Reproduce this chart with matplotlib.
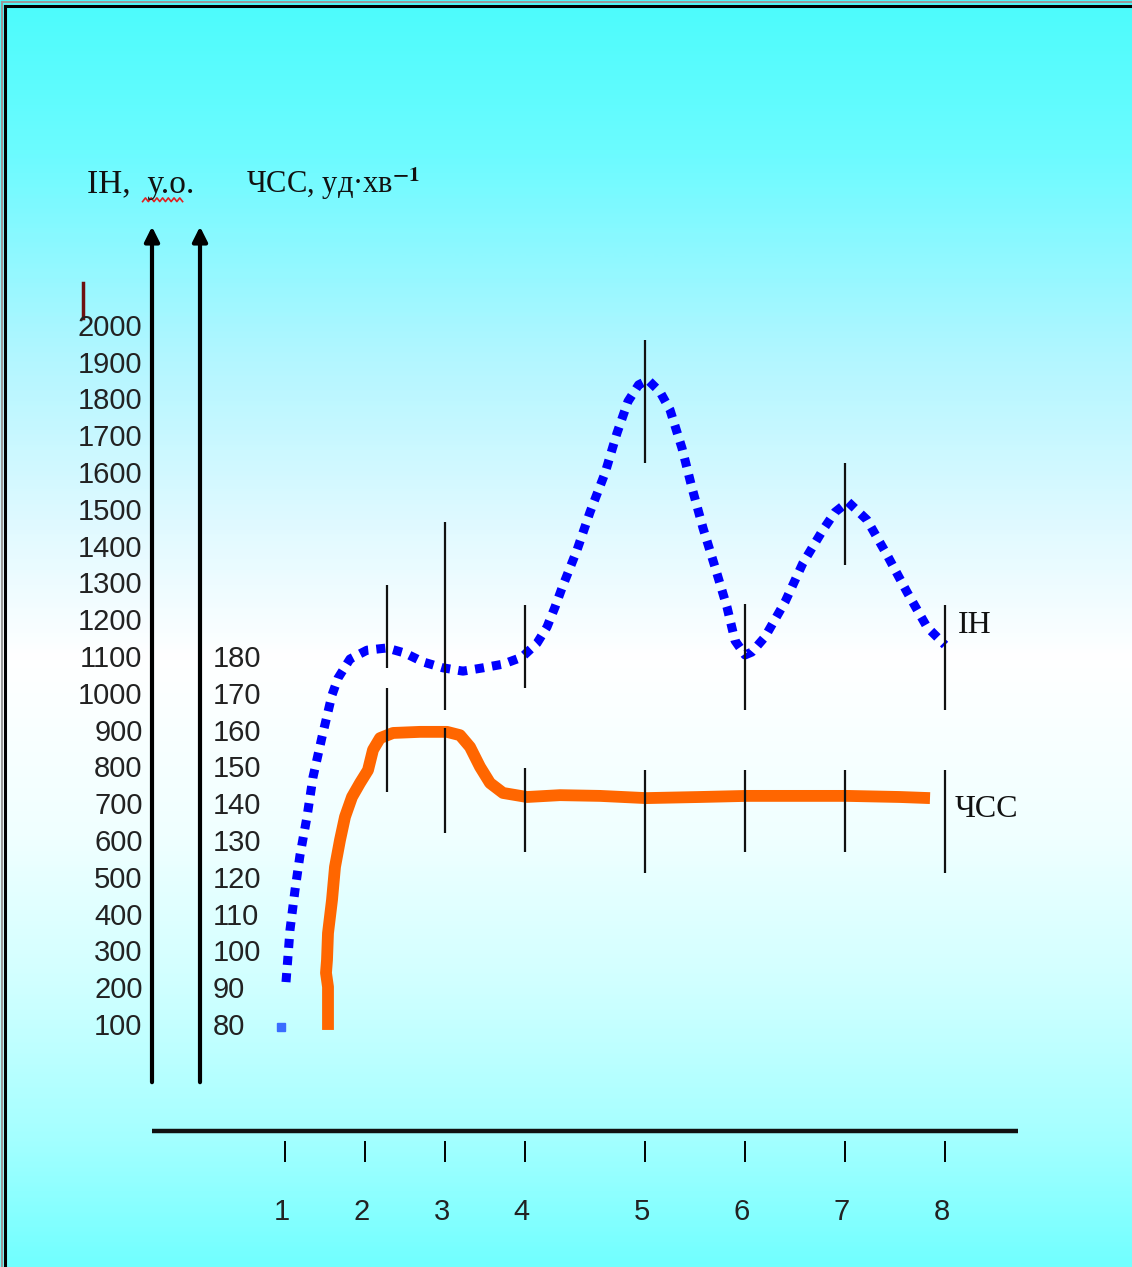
import numpy as np
import matplotlib.pyplot as plt
from matplotlib.colors import LinearSegmentedColormap
from matplotlib.lines import Line2D

plt.rcParams['mathtext.fontset'] = 'stix'

# етапи та їх положення на горизонтальній осі
stages = ["1", "2", "3", "4", "5", "6", "7", "8"]
stage_x = [1, 2, 3, 4, 5.5, 6.75, 8, 9.25]

# шкали
ih_ticks = list(range(100, 2001, 100))
hr_ticks = list(range(80, 181, 10))

# індекс напруження (ІН), у.о.
ih_x = [1.0125, 1.0625, 1.125, 1.1875, 1.275, 1.35, 1.4625, 1.5875, 1.6625, 1.8125,
        2.025, 2.275, 2.5, 2.725, 2.975, 3.225, 3.475, 3.725, 3.9625, 4.15,
        4.275, 4.375, 4.4625, 4.65, 4.8125, 5.0, 5.15, 5.2875, 5.42, 5.5375,
        5.6875, 5.8125, 5.9625, 6.0875, 6.225, 6.375, 6.525, 6.625, 6.75, 6.8375,
        7.0, 7.25, 7.475, 7.725, 7.875, 8.0375, 8.275, 8.525, 8.775, 9.025, 9.25]
ih_y = [222, 364, 472, 567, 671, 779, 888, 1002, 1048, 1100,
        1124, 1130, 1116, 1092, 1076, 1067, 1076, 1086, 1105, 1143,
        1187, 1241, 1293, 1396, 1499, 1605, 1714, 1800, 1845, 1858,
        1826, 1777, 1673, 1565, 1456, 1350, 1241, 1150, 1111, 1119,
        1160, 1255, 1361, 1451, 1499, 1527, 1478, 1383, 1282, 1187, 1138]
ih_start_x = 0.95
ih_start_y = 100

# ЧСС, уд/хв
hr_x = [1.5375, 1.5375, 1.5125, 1.525, 1.5375, 1.5875, 1.625, 1.6875, 1.75, 1.8375,
        1.9375, 2.0375, 2.1, 2.1875, 2.35, 2.6875, 3.025, 3.1875, 3.3125, 3.4375,
        3.5625, 3.725, 4.025, 4.4375, 4.9375, 5.5125, 6.1875, 6.775, 7.4375, 8.025,
        8.6875, 9.0625]
hr_y = [79.2, 90.9, 94.7, 98.2, 105.5, 114.5, 123.5, 130.8, 137.1, 142.5,
        146.3, 149.8, 155.3, 158.5, 159.9, 160.2, 160.2, 159.3, 156.1, 150.7,
        146.3, 143.6, 142.5, 143.0, 142.8, 142.2, 142.5, 142.8, 142.8, 142.8,
        142.5, 142.2]

# розкид значень
bar_x = [2.27, 3, 4, 5.5, 6.75, 8, 9.25]
ih_low = [1076, 961, 1021, 1633, 961, 1355, 961]
ih_high = [1301, 1472, 1247, 1967, 1249, 1633, 1247]
hr_low = [143.9, 132.7, 127.6, 121.8, 127.6, 127.6, 121.8]
hr_high = [172.1, 161.3, 150.4, 149.8, 149.8, 149.8, 149.8]

serif = ['Liberation Serif', 'DejaVu Serif']
sans = ['Liberation Sans', 'DejaVu Sans']

W, H = 1132, 1267
fig = plt.figure(figsize=(W / 100, H / 100), dpi=100)

# фон з градієнтом
bg = fig.add_axes([0, 0, 1, 1])
bg.set_axis_off()
cmap = LinearSegmentedColormap.from_list('fon', [
    (0.0, '#4cfcfc'), (0.12, '#6cfbff'), (0.28, '#b2f6ff'), (0.42, '#e2faff'),
    (0.52, '#ffffff'), (0.66, '#f0ffff'), (0.78, '#d0ffff'), (0.9, '#a4ffff'),
    (1.0, '#72ffff')])
bg.imshow(np.linspace(0, 1, 600).reshape(-1, 1), cmap=cmap, aspect='auto')

ax = fig.add_axes([0, 0, 1, 1])
ax.set_axis_off()
ax.patch.set_alpha(0)
y_lo, y_hi = -552.2, 2890.8
ax.set_xlim(-2.5625, 11.5875)
ax.set_ylim(y_lo, y_hi)


def to_hr(v):
    return (v - 100) / 10 + 80


ax2 = ax.twinx()
ax2.set_axis_off()
ax2.set_ylim(to_hr(y_lo), to_hr(y_hi))

# вертикальні осі зі стрілками
for xa in (-0.6625, -0.0625):
    ax.annotate('', xy=(xa, 2275), xytext=(xa, -50),
                arrowprops=dict(arrowstyle='-|>', lw=3, color='black',
                                mutation_scale=22, shrinkA=0, shrinkB=0))

for v in ih_ticks:
    ax.text(-0.78, v, str(v), ha='right', va='center', fontsize=21,
            family=sans, color='#222222')
for v in hr_ticks:
    ax2.text(0.1, v, str(v), ha='left', va='center', fontsize=21,
             family=sans, color='#222222')

ax.plot([-1.525, -1.525], [2027, 2122], color='#6e1010', lw=2.5)

ax.text(-1.475, 2366, 'ІН,  у.о.', ha='left', va='baseline', fontsize=24,
        family=serif, color='#111111')
ax.text(0.5125, 2366, 'ЧСС, уд·хв$^{\\mathbf{-1}}$', ha='left', va='baseline',
        fontsize=22, family=serif, color='#111111')
sq_x = np.linspace(-0.78, -0.28, 15)
sq_y = 2348 + np.where(np.arange(15) % 2, 5, -5)
ax.plot(sq_x, sq_y, color='#e02020', lw=1.2)

# горизонтальна вісь етапів
ax.plot([-0.6625, 10.1625], [-182.6, -182.6], color='#111111', lw=3.2,
        solid_capstyle='butt')
ax.vlines(stage_x, -267, -210, color='black', lw=1.4)
for xs, s in zip(stage_x, stages):
    ax.text(xs - 0.04, -402, s, ha='center', va='center', fontsize=21,
            family=sans, color='#222222')

# розкид
ax.vlines(bar_x, ih_low, ih_high, color='#111111', lw=1.6, zorder=3)
ax2.vlines(bar_x, hr_low, hr_high, color='#111111', lw=1.6, zorder=3)

# криві
ax.plot(ih_x, ih_y, color='#0000ff', lw=6.5, linestyle=(0, (1, 0.9)),
        dash_capstyle='butt', solid_joinstyle='round', zorder=2)
ax.plot([ih_start_x], [ih_start_y], marker='s', ms=6, color='#3a6cff', lw=0)
ax2.plot(hr_x, hr_y, color='#ff6600', lw=8.5, solid_capstyle='butt',
         solid_joinstyle='round', zorder=2)

ax.text(9.4125, 1171, 'ІН', ha='left', va='baseline', fontsize=23,
        family=serif, color='#111111')
ax2.text(9.375, 137.1, 'ЧСС', ha='left', va='baseline', fontsize=23,
         family=serif, color='#111111')

# рамка
fig.add_artist(Line2D([5 / W, 1], [1 - 6 / H, 1 - 6 / H], transform=fig.transFigure,
                      color='black', lw=2.2))
fig.add_artist(Line2D([5 / W, 5 / W], [0, 1 - 6 / H], transform=fig.transFigure,
                      color='black', lw=2.2))
fig.add_artist(Line2D([1.5 / W, 1.5 / W], [0, 1 - 2 / H], transform=fig.transFigure,
                      color='#9a9a9a', lw=1.5))
fig.add_artist(Line2D([1.5 / W, 1], [1 - 2 / H, 1 - 2 / H], transform=fig.transFigure,
                      color='#9a9a9a', lw=1.5))

fig.savefig('out.png', dpi=100)
